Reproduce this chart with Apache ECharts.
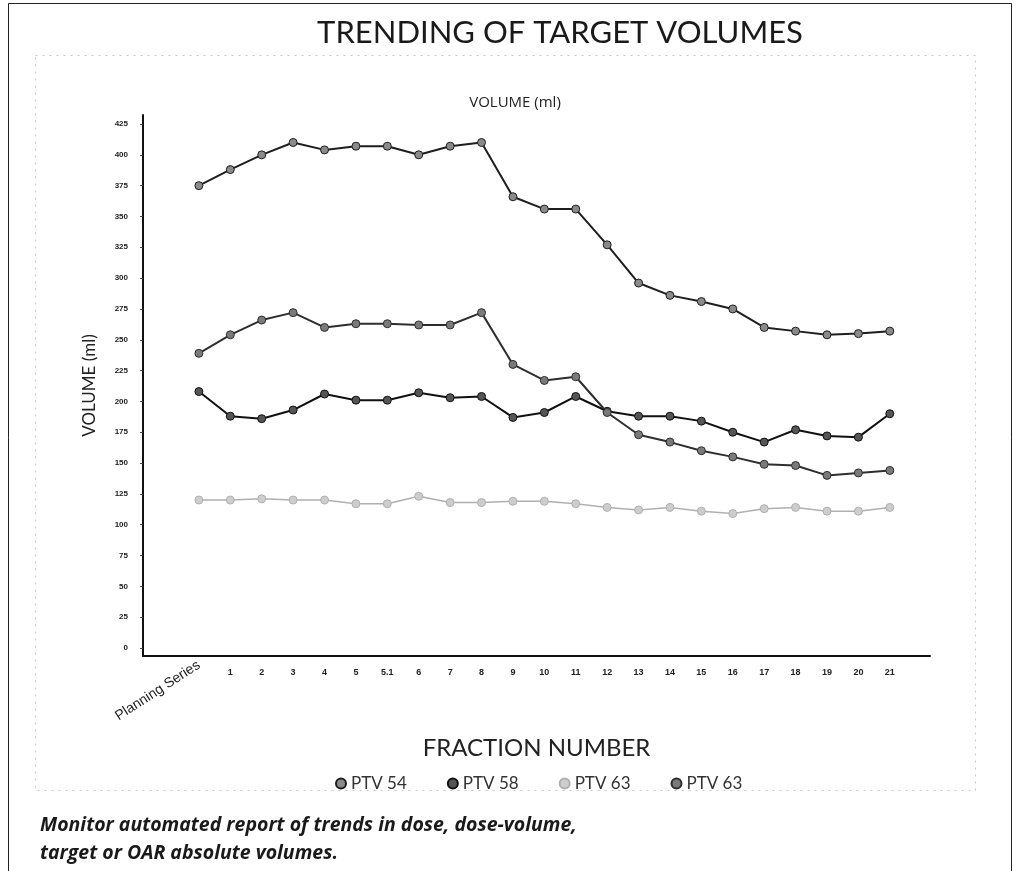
<!DOCTYPE html>
<html>
<head>
<meta charset="utf-8">
<title>Trending of Target Volumes</title>
<script src="https://cdn.jsdelivr.net/npm/echarts@6/dist/echarts.min.js"></script>
<style>
  html, body { margin: 0; padding: 0; background: #ffffff; }
  #chart { width: 1016px; height: 871px; }
</style>
</head>
<body>
<div id="chart"></div>
<script>
// Fraction labels along the horizontal axis
const categories = ['Planning Series', '1', '2', '3', '4', '5', '5.1', '6', '7', '8', '9',
  '10', '11', '12', '13', '14', '15', '16', '17', '18', '19', '20', '21'];

// Volume tick labels (ml)
const volumeTicks = [0, 25, 50, 75, 100, 125, 150, 175, 200, 225, 250, 275, 300, 325, 350, 375, 400, 425];

// Volumes (ml) per fraction
const ptv54 = [375, 388, 400, 410, 404, 407, 407, 400, 407, 410, 366, 356, 356, 327, 296, 286, 281, 275, 260, 257, 254, 255, 257];
const ptv58 = [208, 188, 186, 193, 206, 201, 201, 207, 203, 204, 187, 191, 204, 192, 188, 188, 184, 175, 167, 177, 172, 171, 190];
const ptv63a = [120, 120, 121, 120, 120, 117, 117, 123, 118, 118, 119, 119, 117, 114, 112, 114, 111, 109, 113, 114, 111, 111, 114];
const ptv63b = [239, 254, 266, 272, 260, 263, 263, 262, 262, 272, 230, 217, 220, 191, 173, 167, 160, 155, 149, 148, 140, 142, 144];

const legendNames = ['PTV 54', 'PTV 58', 'PTV 63', 'PTV 63 '];

// axis extents leave a little room beyond the first/last values
const xMin = -1.78, xMax = 23.28;
const yMin = -6.5, yMax = 432.3;
const labelFont = 'Liberation Sans';
const headFont = 'Lato';

function pts(arr) { return arr.map((v, i) => [i, v]); }

function line(name, data, lineColor, markColor, width) {
  return {
    name: name,
    type: 'line',
    data: pts(data),
    symbol: 'circle',
    symbolSize: 8,
    lineStyle: { color: lineColor, width: width },
    itemStyle: { color: markColor, borderColor: lineColor, borderWidth: 1 },
    emphasis: { disabled: true }
  };
}

const chart = echarts.init(document.getElementById('chart'), null, { renderer: 'canvas' });

chart.setOption({
  animation: false,
  backgroundColor: '#ffffff',
  title: [
    {
      text: 'TRENDING OF TARGET VOLUMES',
      left: 555, top: 12, textAlign: 'center',
      textStyle: { fontFamily: headFont, fontSize: 31, fontWeight: 'normal', color: '#1a1a1a', letterSpacing: 1 }
    },
    {
      text: 'VOLUME (ml)',
      left: 510, top: 90, textAlign: 'center',
      textStyle: { fontFamily: 'Open Sans', fontSize: 15, fontWeight: 'normal', color: '#222' }
    }
  ],
  legend: {
    top: 770, left: 330,
    itemWidth: 10, itemHeight: 10, itemGap: 40,
    icon: 'circle',
    data: legendNames,
    formatter: n => n.trim(),
    textStyle: { fontFamily: headFont, fontSize: 17, color: '#333' }
  },
  grid: { left: 143, top: 115, right: 86, bottom: 215, containLabel: false },
  xAxis: [
    {
      type: 'value', min: xMin, max: xMax,
      name: 'FRACTION NUMBER', nameLocation: 'middle', nameGap: 80,
      nameTextStyle: { fontFamily: headFont, fontSize: 24, color: '#222' },
      axisLine: { show: true, onZero: false, lineStyle: { color: '#111', width: 2 } },
      axisTick: { show: false },
      splitLine: { show: false },
      axisLabel: {
        customValues: categories.map((c, i) => i).slice(1),
        formatter: v => categories[v] || '',
        margin: 12,
        fontFamily: labelFont, fontSize: 9, fontWeight: 'bold', color: '#222'
      }
    },
    {
      type: 'value', min: xMin, max: xMax, position: 'bottom',
      axisLine: { show: false, onZero: false }, axisTick: { show: false }, splitLine: { show: false },
      axisLabel: {
        customValues: [0],
        formatter: v => categories[v] || '',
        rotate: 33, margin: 8,
        fontFamily: labelFont, fontSize: 14, color: '#222'
      }
    }
  ],
  yAxis: {
    type: 'value', min: yMin, max: yMax,
    name: 'VOLUME (ml)', nameLocation: 'middle', nameGap: 45, nameRotate: 90,
    nameTextStyle: { fontFamily: headFont, fontSize: 17, color: '#222' },
    axisLine: { show: true, onZero: false, lineStyle: { color: '#111', width: 2 } },
    axisTick: { show: true, length: 3, customValues: volumeTicks, lineStyle: { color: '#444' } },
    splitLine: { show: false },
    axisLabel: {
      customValues: volumeTicks,
      margin: 15,
      fontFamily: labelFont, fontSize: 8, fontWeight: 'bold', color: '#222'
    }
  },
  series: [
    line(legendNames[0], ptv54, '#1e1e1e', '#8a8a8a', 2),
    line(legendNames[1], ptv58, '#111111', '#555555', 2),
    line(legendNames[2], ptv63a, '#b0b0b0', '#cdcdcd', 1.5),
    line(legendNames[3], ptv63b, '#2e2e2e', '#7a7a7a', 2)
  ],
  graphic: [
    {
      type: 'rect', silent: true,
      shape: { x: 8.5, y: 3.5, width: 1003, height: 880 },
      style: { fill: 'none', stroke: '#222', lineWidth: 1 }
    },
    {
      type: 'rect', silent: true,
      shape: { x: 35.5, y: 55.5, width: 940, height: 735 },
      style: { fill: 'none', stroke: '#c8c8c8', lineWidth: 1, lineDash: [2, 5] }
    },
    {
      type: 'text', silent: true, left: 40, top: 815,
      style: {
        text: 'Monitor automated report of trends in dose, dose-volume,',
        font: 'italic bold 19.5px "Open Sans"', fill: '#1a1a1a'
      }
    },
    {
      type: 'text', silent: true, left: 40, top: 843,
      style: {
        text: 'target or OAR absolute volumes.',
        font: 'italic bold 19.5px "Open Sans"', fill: '#1a1a1a'
      }
    }
  ]
});
</script>
</body>
</html>
